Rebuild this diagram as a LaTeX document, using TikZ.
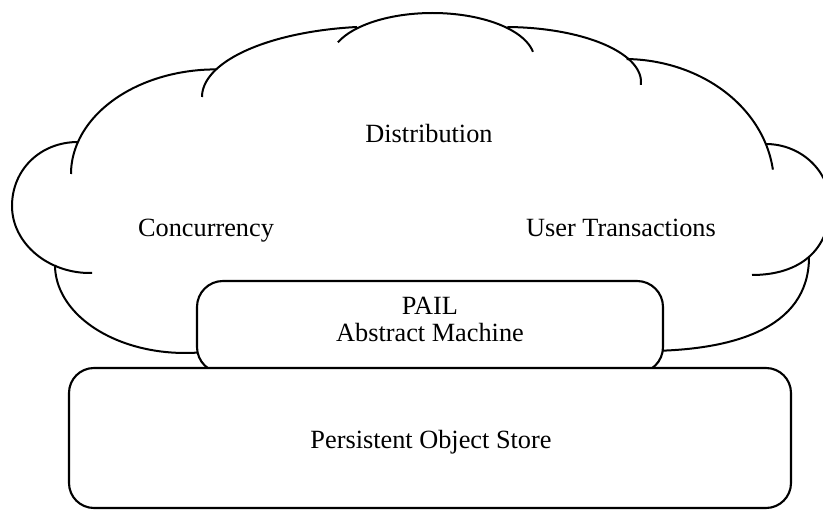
\documentclass[tikz,border=0pt]{standalone}
\usepackage{fontspec}
\setmainfont{Liberation Serif}
\tikzset{
  box/.style={draw,line width=2.1pt,fill=white,rounded corners=#1,inner sep=0pt},
  box/.default=25pt,
  lobe/.style={line width=2pt},
  lbl/.style={font=\fontsize{26.3}{27}\selectfont,inner sep=0pt},
}
% one elliptic bump of the cloud: centre, radii, start and end angle
\newcommand\cloudlobe[6]{%
  \draw[lobe] plot[domain=#5:#6,samples=60] ({#1+#3*cos(\x)},{#2+#4*sin(\x)});}

\begin{document}
\begin{tikzpicture}[x=1pt,y=-1pt]
  \useasboundingbox (0,0) rectangle (823,510);
  \clip (0,0) rectangle (823,510);
  % the cloud, bump by bump, clockwise from the bottom left
  \cloudlobe{185}{265}{130}{88}{80}{180}
  \draw[lobe] (92,273) .. controls (48,274) and (12,243) .. (12,206)
                       .. controls (12,170) and (40,142) .. (78,142);
  \cloudlobe{216}{174}{145}{104.6}{180}{270}
  \cloudlobe{380}{97}{178}{70.6}{180}{262.6}
  \cloudlobe{432.5}{60}{102}{47}{202}{350}
  \cloudlobe{505}{82}{136}{55}{271}{363}
  \cloudlobe{624}{185}{150}{126}{271}{353}
  \draw[lobe] (765.8,144) .. controls (801,144) and (830,171) .. (830,205)
                          .. controls (830,250) and (800,275) .. (752,275);
  \draw[lobe] (809,257) .. controls (809,330) and (730,350) .. (650,351);

  \node[lbl,anchor=base] (dist) at (429,143) {Distribution};
  \node[lbl,anchor=base] (conc) at (206,237) {Concurrency};
  \node[lbl,anchor=base] (trans) at (621,237) {User Transactions};

  % machine layer sits in the cloud, the store underneath covers its bottom
  \node[box=26pt,minimum width=466pt,minimum height=92pt] (pail) at (430,327) {};
  \node[lbl,align=center] (pailtext) at (430,319) {PAIL\\Abstract Machine};
  \node[box,minimum width=722pt,minimum height=140pt] (store) at (430,438) {};
  \node[lbl,anchor=base] (storetext) at (431,449) {Persistent Object Store};
\end{tikzpicture}
\end{document}
